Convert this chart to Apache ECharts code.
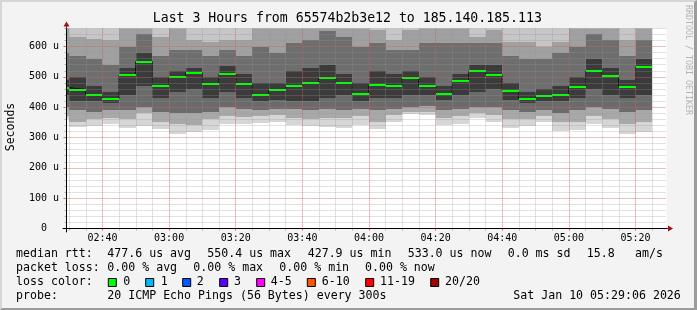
<!DOCTYPE html>
<html><head><meta charset="utf-8">
<script src="https://cdn.jsdelivr.net/npm/echarts@6/dist/echarts.min.js"></script>
<style>
html,body{margin:0;padding:0;background:#f3f3f3;overflow:hidden;}
#c{position:absolute;left:0;top:0;width:697px;height:310px;}
#frame{position:absolute;left:0;top:0;width:697px;height:310px;box-sizing:border-box;border-top:2px solid #d6d6d6;border-left:2px solid #d6d6d6;border-right:3px solid #9c9c9c;border-bottom:2px solid #9c9c9c;pointer-events:none;}
</style></head>
<body><div id="c"></div><div id="frame"></div>
<script>
// ---- data ----
const times = ['02:25','02:30','02:35','02:40','02:45','02:50','02:55','03:00','03:05','03:10','03:15','03:20',
  '03:25','03:30','03:35','03:40','03:45','03:50','03:55','04:00','04:05','04:10','04:15','04:20',
  '04:25','04:30','04:35','04:40','04:45','04:50','04:55','05:00','05:05','05:10','05:15','05:20'];
const median  = [464,458,440,428,506,550,470,499,514,477,510,477,441,458,471,481,497,481,444,473,471,497,471,444,486,520,507,454,428,438,441,468,520,504,468,533];
const pingMin = [360,334,339,343,330,339,328,313,318,326,343,345,348,352,341,338,336,332,341,328,352,376,373,341,344,363,352,332,339,352,321,325,344,330,313,319];
const ping3   = [372,352,360,365,360,380,350,345,340,360,370,368,370,375,365,360,365,365,370,350,375,385,385,365,370,380,375,360,360,370,350,350,370,360,345,350];
const ping6   = [400,391,385,390,390,400,385,380,380,385,400,395,390,395,395,390,395,390,395,390,395,400,405,390,395,400,400,390,385,390,380,390,400,395,385,390];
const ping9   = [440,420,420,415,440,470,430,450,460,430,450,430,420,425,420,420,430,440,420,430,430,440,440,425,440,450,460,425,415,420,420,430,460,440,430,440];
const ping12  = [490,500,470,450,530,580,500,520,530,500,535,510,480,480,520,530,540,510,480,520,510,520,500,470,510,540,540,480,450,460,470,500,560,530,490,560];
const ping15  = [580,570,560,540,600,640,570,590,590,570,590,570,600,580,610,620,650,630,600,610,590,590,610,610,610,610,610,570,560,560,580,600,640,620,570,620];
const ping18  = [680,630,625,620,670,700,630,670,620,615,620,620,690,670,690,700,720,700,690,655,620,655,690,690,690,630,655,615,615,600,615,670,710,690,620,670];
const pingMax = [730,700,700,700,720,760,710,720,700,690,700,700,740,720,740,750,780,760,740,710,690,710,740,740,740,700,710,690,690,680,690,720,770,740,700,720];
const viewStart = '02:29:12', viewEnd = '05:29:18';
const yMax = 660;
const titleText = 'Last 3 Hours from 65574b2b3e12 to 185.140.185.113';
const legendRows = [
  [['median rtt:',16],['477.6 us avg',107.3],['550.4 us max',207.3],['427.9 us min',307.7],['533.0 us now',407.7],['0.0 ms sd',507.7],['15.8',586.7],['am/s',635]],
  [['packet loss:',16],['0.00 % avg',107.3],['0.00 % max',193.3],['0.00 % min',279.3],['0.00 % now',365]],
  [['loss color:',16]],
  [['probe:',16],['20 ICMP Echo Pings (56 Bytes) every 300s',107.3],['Sat Jan 10 05:29:06 2026',513.3]]
];
const lossLabels = ['0','1','2','3','4-5','6-10','11-19','20/20'];
const lossColors = ['#00ff00','#00b8ff','#0059ff','#5e00ff','#ff00ff','#ff5500','#ff0000','#a10000'];
const lossBoxX = [108.3,145.7,182.7,219.7,256.7,307.3,365.7,430.7];
const lossLabelX = [123.3,160.7,196.7,234,270.7,321.7,380,445];

// ---- helpers ----
const STEP = 5;
const toMin = s => { const p = s.split(':').map(Number); return p[0]*60 + p[1] + (p[2]||0)/60; };
const fmt = v => { const h = Math.floor(v/60), m = Math.round(v - h*60); return String(h).padStart(2,'0') + ':' + String(m).padStart(2,'0'); };
const X0 = toMin(viewStart), X1 = toMin(viewEnd);
const PL = 66.5, PW = 600, PB = 228.5, PH = 200.2;
const pxX = v => PL + (v - X0) * PW / (X1 - X0);
const pxPerUnit = PH / yMax;
const FF = '"DejaVu Sans Mono"';
const GRID_C = 'rgba(150,150,150,0.55)';
const MGRID_C = 'rgba(255,50,50,0.38)';

const starts = times.map(toMin);

function rectItem(params, api) {
  const a = api.coord([api.value(0), api.value(3)]);
  const b = api.coord([api.value(1), api.value(2)]);
  const x0 = Math.round(a[0]), x1 = Math.round(b[0]);
  const y0 = Math.round(a[1]), y1 = Math.round(b[1]);
  const cs = params.coordSys;
  const r = echarts.graphic.clipRectByRect({x:x0, y:y0, width:x1-x0, height:y1-y0},
    {x:Math.round(cs.x), y:cs.y, width:cs.width, height:cs.height});
  return r ? {type:'rect', shape:r, style:{fill:api.visual('color')}} : null;
}
function medItem(params, api) {
  const a = api.coord([api.value(0), api.value(2)]);
  const b = api.coord([api.value(1), api.value(2)]);
  const x0 = Math.round(a[0]), x1 = Math.round(b[0]);
  const y = Math.round(a[1]);
  const cs = params.coordSys;
  const r = echarts.graphic.clipRectByRect({x:x0, y:y-1, width:x1-x0, height:2},
    {x:Math.round(cs.x), y:cs.y, width:cs.width, height:cs.height});
  return r ? {type:'rect', shape:r, style:{fill:api.visual('color')}} : null;
}

const bands = [
  [pingMin, ping3, '#d6d6d6'],
  [ping3, ping6, '#a8a8a8'],
  [ping6, ping9, '#6b6b6b'],
  [ping9, ping12, '#3b3b3b'],
  [ping12, ping15, '#6e6e6e'],
  [ping15, ping18, '#a0a0a0'],
  [ping18, pingMax, '#c6c6c6']
];
const series = bands.map(([lo, hi, col]) => ({
  type:'custom', xAxisIndex:0, yAxisIndex:0, z:2, silent:true, animation:false,
  itemStyle:{color:col}, renderItem:rectItem,
  encode:{x:[0,1], y:[2,3]},
  data: starts.map((s,i) => [s, s+STEP, lo[i], hi[i]])
}));
series.push({
  type:'line', xAxisIndex:0, yAxisIndex:0, z:3, silent:true, animation:false,
  step:'end', symbol:'none', lineStyle:{color:'#000', width:1},
  data: starts.map((s,i) => [s, median[i]]).concat([[starts[starts.length-1]+STEP, median[median.length-1]]])
});
series.push({
  type:'custom', xAxisIndex:0, yAxisIndex:0, z:4, silent:true, animation:false,
  itemStyle:{color:lossColors[0]}, renderItem:medItem,
  encode:{x:[0,1], y:2},
  data: starts.map((s,i) => [s, s+STEP, median[i]])
});

// grids
const g5a = Math.ceil(X0/5)*5, g5b = Math.floor(X1/5)*5;
const g20a = Math.ceil(X0/20)*20, g20b = Math.floor(X1/20)*20;
const redTop = PB - 600*pxPerUnit;
const grids = [
  {left:PL, top:PB-PH, width:PW, height:PH, show:true, backgroundColor:'#ffffff', borderWidth:0},
  {left:pxX(g5a), top:PB-PH, width:pxX(g5b)-pxX(g5a), height:PH},
  {left:pxX(g20a), top:PB-PH, width:pxX(g20b)-pxX(g20a), height:PH},
  {left:PL, top:redTop, width:PW, height:PB-redTop},
  {left:63, top:PB-PH, width:604, height:232-(PB-PH)},
  {left:667, top:100, width:3.5, height:PB-100},
  {left:PL, top:24, width:100, height:PB-PH-24}
];
const hidden = (gi, extra) => Object.assign({gridIndex:gi, type:'value', show:false}, extra||{});
const xAxis = [
  hidden(0, {min:X0, max:X1}),
  {gridIndex:1, type:'value', min:g5a, max:g5b, interval:5, z:5,
   axisLine:{show:false}, axisLabel:{show:false},
   axisTick:{show:true, length:2, lineStyle:{color:'#b0b0b0'}},
   splitLine:{show:true, lineStyle:{color:GRID_C, width:1, type:[1,1]}}},
  {gridIndex:2, type:'value', min:g20a, max:g20b, interval:20, z:6,
   axisLine:{show:false},
   axisTick:{show:true, length:2, lineStyle:{color:'#ff6060'}},
   axisLabel:{formatter:fmt, fontFamily:FF, fontSize:10, color:'#000', margin:4.5},
   splitLine:{show:true, lineStyle:{color:MGRID_C, width:1, type:[1,1]}}},
  hidden(3, {min:X0, max:X1}),
  {gridIndex:4, type:'value', min:-3.5, max:600.5, z:8,
   axisLine:{show:true, onZero:true, lineStyle:{color:'#000', width:1}},
   axisTick:{show:false}, axisLabel:{show:false}, splitLine:{show:false}},
  {gridIndex:5, type:'value', min:0, max:1, z:8,
   axisLine:{show:true, onZero:false, symbol:['none','triangle'], symbolSize:[6,5], lineStyle:{color:'#a01010', width:1}},
   axisTick:{show:false}, axisLabel:{show:false}, splitLine:{show:false}},
  hidden(6, {min:0, max:1})
];
const yAxis = [
  {gridIndex:0, type:'value', min:0, max:yMax, interval:20, z:5,
   axisLine:{show:false}, axisLabel:{show:false},
   axisTick:{show:true, length:2, lineStyle:{color:'#b0b0b0'}},
   splitLine:{show:true, lineStyle:{color:GRID_C, width:1, type:[1,1]}}},
  hidden(1, {min:0, max:yMax}),
  hidden(2, {min:0, max:yMax}),
  {gridIndex:3, type:'value', min:0, max:600, interval:100, z:6,
   axisLine:{show:false},
   axisTick:{show:true, length:3, lineStyle:{color:'#ff6060'}},
   axisLabel:{formatter: v => v === 0 ? '0  ' : v + ' u', fontFamily:FF, fontSize:10, color:'#000', margin:7.5},
   splitLine:{show:true, lineStyle:{color:MGRID_C, width:1, type:[1,1]}}},
  {gridIndex:4, type:'value', min:-(232-PB)/pxPerUnit, max:PH/pxPerUnit, z:8,
   axisLine:{show:true, onZero:true, lineStyle:{color:'#000', width:1}},
   axisTick:{show:false}, axisLabel:{show:false}, splitLine:{show:false}},
  hidden(5, {min:0, max:1}),
  {gridIndex:6, type:'value', min:0, max:1, z:8,
   axisLine:{show:true, onZero:false, symbol:['none','triangle'], symbolSize:[6,5], lineStyle:{color:'#a01010', width:1}},
   axisTick:{show:false}, axisLabel:{show:false}, splitLine:{show:false}}
];

// texts
const graphic = [];
const font = s => s + 'px ' + FF;
graphic.push({type:'text', x:347.3, y:19, silent:true, style:{text:titleText, font:font(13.2), fill:'#000', align:'center', verticalAlign:'middle'}});
graphic.push({type:'text', x:11.5, y:127, rotation:Math.PI/2, silent:true, style:{text:'Seconds', font:font(11.5), fill:'#000', align:'center', verticalAlign:'middle'}});
graphic.push({type:'text', x:688.5, y:60, rotation:-Math.PI/2, silent:true, style:{text:'RRDTOOL / TOBI OETIKER', font:font(8.3), fill:'#b4b4b4', align:'center', verticalAlign:'middle'}});
const rowY = [254.3, 268.2, 282.1, 296];
legendRows.forEach((row, r) => row.forEach(([t, x]) => {
  graphic.push({type:'text', x:x, y:rowY[r], silent:true, style:{text:t, font:font(11.6), fill:'#000', align:'left', verticalAlign:'middle'}});
}));
lossLabels.forEach((lab, i) => {
  graphic.push({type:'rect', x:lossBoxX[i], y:278.5, silent:true, shape:{x:0, y:0, width:8, height:8}, style:{fill:lossColors[i], stroke:'#000', lineWidth:1}});
  graphic.push({type:'text', x:lossLabelX[i], y:rowY[2], silent:true, style:{text:lab, font:font(11.6), fill:'#000', align:'left', verticalAlign:'middle'}});
});

const chart = echarts.init(document.getElementById('c'), null, {renderer:'canvas'});
chart.setOption({
  animation:false,
  backgroundColor:'#f3f3f3',
  grid:grids, xAxis:xAxis, yAxis:yAxis, series:series, graphic:graphic
});
</script>
</body></html>
